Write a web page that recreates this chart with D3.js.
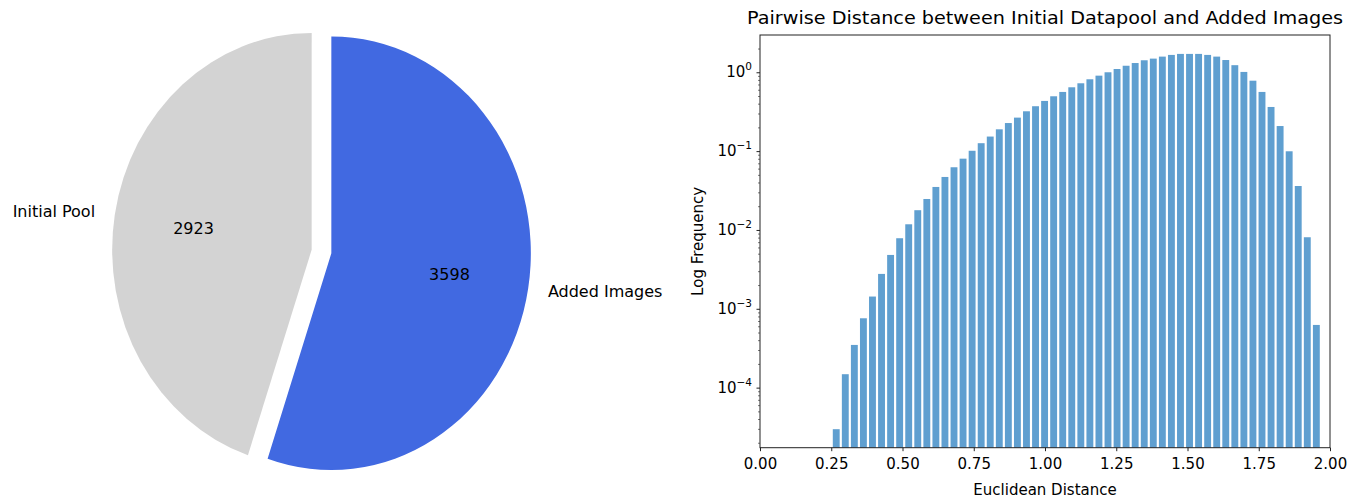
<!DOCTYPE html>
<html>
<head>
<meta charset="utf-8">
<script src="https://cdn.jsdelivr.net/npm/d3@7"></script>
<style>
  body { margin: 0; background: #fff; }
  text { font-family: "DejaVu Sans", sans-serif; fill: #000; }
</style>
</head>
<body>
<div id="chart"></div>
<script>
// pie data
let pieLabels = ["Initial Pool", "Added Images"];
let pieValues = [2923, 3598];
let pieColors = ["#d3d3d3", "#4169e1"];

// histogram data (density per bin, log scale)
let binRange = [0.2516, 1.968];
let frequencies = [
  2.97e-5, 1.48e-4, 3.48e-4, 7.58e-4, 1.43e-3, 2.77e-3, 4.82e-3, 7.85e-3,
  0.0118, 0.0178, 0.0247, 0.0351, 0.0470, 0.0624, 0.0802, 0.101,
  0.126, 0.153, 0.189, 0.227, 0.266, 0.320, 0.371, 0.433,
  0.496, 0.563, 0.645, 0.725, 0.815, 0.906, 1.00, 1.10,
  1.21, 1.31, 1.42, 1.49, 1.58, 1.66, 1.71, 1.71,
  1.71, 1.66, 1.58, 1.43, 1.23, 1.01, 0.782, 0.563,
  0.363, 0.208, 0.0995, 0.0361, 0.00808, 6.24e-4
];
let xTicks = [0, 0.25, 0.5, 0.75, 1.0, 1.25, 1.5, 1.75, 2.0];
let yTicks = [1e-4, 1e-3, 1e-2, 1e-1, 1];
let yTickExp = ["\u22124", "\u22123", "\u22122", "\u22121", "0"];

let svg = d3.select("#chart").append("svg")
  .attr("width", 1362)
  .attr("height", 499);

// ---------- pie ----------
let pieCx = 321.5, pieCy = 251.5,
  ry = 216.8, rx = 199.5, explode = 0.05;

let pie = d3.pie().sort(null).startAngle(0).endAngle(-2 * Math.PI);
let arcs = pie(pieValues);

let arc = d3.arc().innerRadius(0).outerRadius(ry);

let pieG = svg.append("g")
  .attr("transform", "translate(" + pieCx + "," + pieCy + ") scale(" + (rx / ry) + ",1)");

function midOf(d) {
  return (d.startAngle + d.endAngle) / 2;
}

pieG.selectAll("path")
  .data(arcs)
  .enter()
  .append("path")
  .attr("d", arc)
  .attr("fill", function (d, i) { return pieColors[i]; })
  .attr("transform", function (d) {
    let a = midOf(d);
    return "translate(" + (explode * ry * Math.sin(a)) + "," + (-explode * ry * Math.cos(a)) + ")";
  });

// point at fraction f of radius from the exploded wedge center, in page coords
function piePoint(d, f) {
  let a = midOf(d);
  return [
    pieCx + (explode + f) * rx * Math.sin(a),
    pieCy - (explode + f) * ry * Math.cos(a)
  ];
}

svg.selectAll(".pie-label")
  .data(arcs)
  .enter()
  .append("text")
  .attr("class", "pie-label")
  .attr("x", function (d) { return piePoint(d, 1.1)[0]; })
  .attr("y", function (d) { return piePoint(d, 1.1)[1]; })
  .attr("text-anchor", function (d) { return Math.sin(midOf(d)) < 0 ? "end" : "start"; })
  .attr("dominant-baseline", "central")
  .style("font-size", "16px")
  .text(function (d, i) { return pieLabels[i]; });

svg.selectAll(".pie-value")
  .data(arcs)
  .enter()
  .append("text")
  .attr("class", "pie-value")
  .attr("x", function (d) { return piePoint(d, 0.6)[0]; })
  .attr("y", function (d) { return piePoint(d, 0.6)[1]; })
  .attr("text-anchor", "middle")
  .attr("dominant-baseline", "central")
  .style("font-size", "16px")
  .text(function (d) { return d.value; });

// ---------- histogram ----------
let axLeft = 760, axRight = 1330, axTop = 35, axBottom = 447.7;

let x = d3.scaleLinear().domain([0, 2]).range([axLeft, axRight]);
let y = d3.scaleLog().domain([1.73e-5, 2.97]).range([axBottom, axTop]);

let binW = (binRange[1] - binRange[0]) / frequencies.length;
let bins = frequencies.map(function (f, i) {
  return {x0: binRange[0] + i * binW, x1: binRange[0] + (i + 1) * binW, v: f};
});

let rwidth = 0.76;
svg.append("g")
  .selectAll("rect")
  .data(bins)
  .enter()
  .append("rect")
  .attr("x", function (d) {
    let w = x(d.x1) - x(d.x0);
    return x(d.x0) + w * (1 - rwidth) / 2;
  })
  .attr("width", function (d) { return (x(d.x1) - x(d.x0)) * rwidth; })
  .attr("y", function (d) { return y(d.v); })
  .attr("height", function (d) { return axBottom - y(d.v); })
  .attr("fill", "#5f9fd0");

// x axis
let xAxis = svg.append("g")
  .attr("transform", "translate(0," + axBottom + ")")
  .call(d3.axisBottom(x).tickValues(xTicks).tickFormat(d3.format(".2f"))
    .tickSize(3.5).tickPadding(7));
xAxis.select(".domain").remove();
xAxis.selectAll("text").style("font-size", "15px").style("font-family", "DejaVu Sans");
xAxis.selectAll("line").attr("stroke", "#222");

// y minor ticks
let minors = [];
[-5, -4, -3, -2, -1, 0].forEach(function (e) {
  for (let k = 2; k <= 9; k++) {
    let v = k * Math.pow(10, e);
    if (v >= y.domain()[0] && v <= y.domain()[1]) minors.push(v);
  }
});
let yMinor = svg.append("g")
  .attr("transform", "translate(" + axLeft + ",0)")
  .call(d3.axisLeft(y).tickValues(minors).tickFormat("").tickSize(2));
yMinor.select(".domain").remove();
yMinor.selectAll("line").attr("stroke", "#222").attr("stroke-width", 0.6);

// y major ticks
let yAxis = svg.append("g")
  .attr("transform", "translate(" + axLeft + ",0)")
  .call(d3.axisLeft(y).tickValues(yTicks).tickFormat("").tickSize(3.5));
yAxis.select(".domain").remove();
yAxis.selectAll("line").attr("stroke", "#222");

let yLab = svg.append("g").selectAll("text")
  .data(yTicks)
  .enter()
  .append("text")
  .attr("x", axLeft - 8)
  .attr("y", function (d) { return y(d) + 5; })
  .attr("text-anchor", "end")
  .style("font-size", "15px");
yLab.append("tspan").text("10");
yLab.append("tspan")
  .attr("dy", -7)
  .style("font-size", "10.5px")
  .text(function (d, i) { return yTickExp[i]; });

// frame
svg.append("rect")
  .attr("x", axLeft)
  .attr("y", axTop)
  .attr("width", axRight - axLeft)
  .attr("height", axBottom - axTop)
  .attr("fill", "none")
  .attr("stroke", "#222")
  .attr("stroke-width", 1);

// title and labels
svg.append("text")
  .attr("x", (axLeft + axRight) / 2)
  .attr("y", 24)
  .attr("text-anchor", "middle")
  .attr("textLength", 596)
  .attr("lengthAdjust", "spacingAndGlyphs")
  .style("font-size", "17px")
  .text("Pairwise Distance between Initial Datapool and Added Images");

svg.append("text")
  .attr("x", (axLeft + axRight) / 2)
  .attr("y", 495)
  .attr("text-anchor", "middle")
  .style("font-size", "15px")
  .text("Euclidean Distance");

svg.append("text")
  .attr("transform", "translate(703," + ((axTop + axBottom) / 2) + ") rotate(-90)")
  .attr("text-anchor", "middle")
  .style("font-size", "15px")
  .text("Log Frequency");
</script>
</body>
</html>
